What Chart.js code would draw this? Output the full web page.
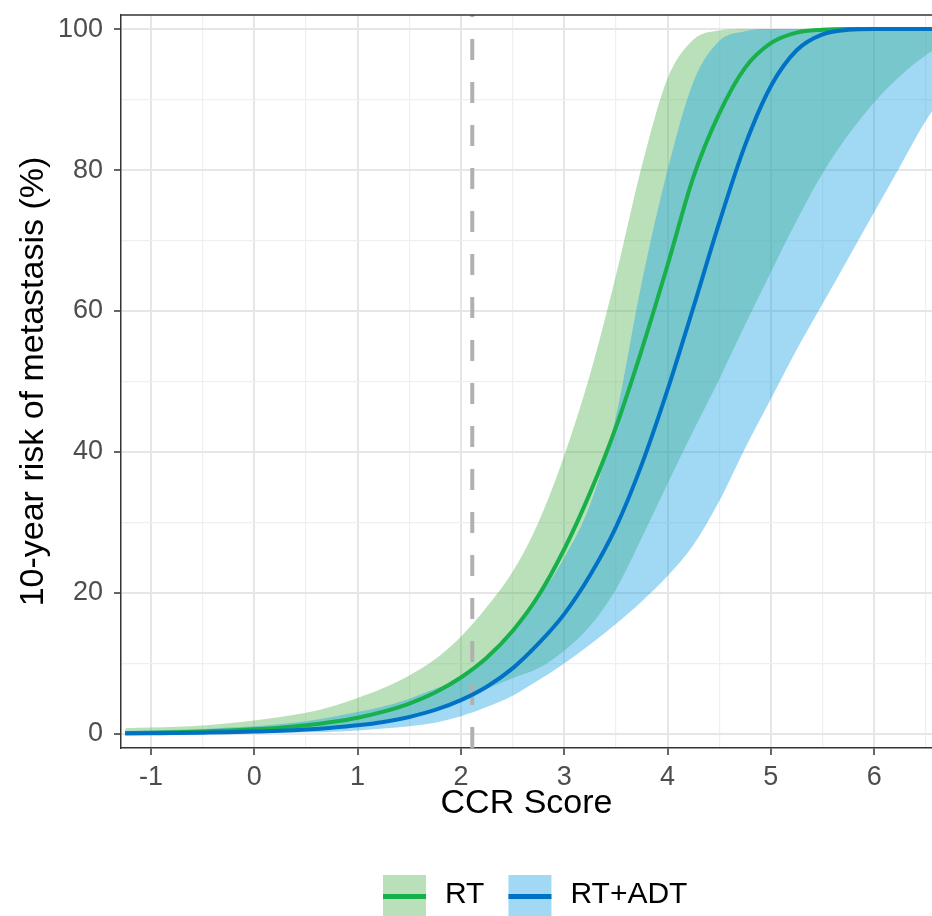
<!DOCTYPE html>
<html>
<head>
<meta charset="utf-8">
<script src="https://cdn.jsdelivr.net/npm/chart.js@4.4.0/dist/chart.umd.min.js"></script>
<style>
html, body { margin: 0; padding: 0; background: #fff; overflow: hidden; }
#wrap { width: 932px; height: 916px; }
</style>
</head>
<body>
<div id="wrap"><canvas id="risk" width="932" height="916"></canvas></div>
<script>
// CCR score grid and 10-year metastasis risk (%)
const ccr = [-1.25, -1, -0.75, -0.5, -0.25, 0, 0.25, 0.5, 0.75, 1, 1.25, 1.5, 1.75, 2, 2.25, 2.5,
             2.75, 3, 3.25, 3.5, 3.75, 4, 4.25, 4.5, 4.75, 5, 5.25, 5.5, 5.75, 6, 6.25, 6.5, 6.75];

const rtRisk = [0.13, 0.18, 0.25, 0.34, 0.47, 0.65, 0.89, 1.22, 1.68, 2.3, 3.16, 4.31, 5.88, 8.0, 10.8, 14.6,
                19.6, 26.2, 34.2, 43.5, 54.5, 66.5, 79, 88, 94.5, 98, 99.5, 99.9, 100, 100, 100, 100, 100];
const rtHigh = [0.8, 0.9, 1.0, 1.2, 1.5, 1.9, 2.4, 3.0, 3.9, 5.1, 6.5, 8.3, 10.6, 13.8, 18, 23,
                30, 39.5, 51, 65, 80.5, 93, 98.5, 99.8, 100, 100, 100, 100, 100, 100, 100, 100, 100];
const rtLow = [0.05, 0.07, 0.1, 0.14, 0.2, 0.3, 0.45, 0.65, 0.95, 1.35, 1.9, 2.7, 3.7, 5.0, 6.4, 7.9,
               9.3, 11.8, 15.3, 20.5, 27.8, 35.5, 43, 50.3, 58, 65.5, 72.8, 79.5, 85, 89.6, 93.3, 96.3, 98.3];

const adtRisk = [0.06, 0.09, 0.12, 0.17, 0.23, 0.33, 0.45, 0.63, 0.88, 1.22, 1.7, 2.4, 3.4, 4.8, 6.7, 9.3,
                 12.8, 17.0, 22.5, 29.3, 38.2, 48.8, 60.5, 72.5, 83.5, 91.9, 97.0, 99.25, 99.9, 100, 100, 100, 100];
const adtHigh = [0.4, 0.5, 0.6, 0.7, 0.9, 1.1, 1.4, 1.8, 2.4, 3.1, 3.9, 5.0, 6.4, 7.8, 10.5, 14.3,
                 19.3, 25, 32.5, 45, 64, 80, 92.5, 98.3, 99.7, 100, 100, 100, 100, 100, 100, 100, 100];
const adtLow = [0.02, 0.03, 0.04, 0.06, 0.08, 0.1, 0.15, 0.22, 0.32, 0.5, 0.75, 1.1, 1.6, 2.5, 3.8, 5.4,
                7.6, 10.0, 12.7, 15.6, 18.8, 22.4, 26.8, 33.0, 40.5, 47.5, 54.5, 61, 67.5, 74, 80.5, 87, 92];

const cutoff = 2.11;
const seriesNames = ['RT', 'RT+ADT'];

const xMajor = [-1, 0, 1, 2, 3, 4, 5, 6];
const xMinor = [-0.5, 0.5, 1.5, 2.5, 3.5, 4.5, 5.5, 6.5];
const yMajor = [0, 20, 40, 60, 80, 100];
const yMinor = [10, 30, 50, 70, 90];
const xRange = [-1.29, 6.56];
const yRange = [-2, 102];

const green = '#17b04a', greenFill = 'rgba(88,180,88,0.42)';
const blue = '#0072c6', blueFill = 'rgba(30,165,230,0.42)';
const font = '"Liberation Sans", Arial, Helvetica, sans-serif';

const pts = arr => ccr.map((x, i) => ({ x: x, y: arr[i] }));

function band(arr, fill) {
    return {
        data: pts(arr),
        borderColor: 'transparent',
        borderWidth: 0,
        backgroundColor: fill || 'transparent',
        fill: fill ? '+1' : false,
        pointRadius: 0,
        cubicInterpolationMode: 'monotone'
    };
}

function curve(arr, color, label) {
    return {
        label: label,
        data: pts(arr),
        borderColor: color,
        borderWidth: 4,
        pointRadius: 0,
        fill: false,
        cubicInterpolationMode: 'monotone'
    };
}

function gridOpts(major) {
    return {
        color: c => major.includes(c.tick.value) ? '#e6e6e6' : '#efefef',
        lineWidth: c => major.includes(c.tick.value) ? 2 : 1.2,
        tickColor: c => major.includes(c.tick.value) ? '#333' : 'rgba(0,0,0,0)',
        tickLength: 7,
        tickWidth: 1.5
    };
}

// no extra room for overhanging tick labels, the layout padding handles it
function noOverhang(s) {
    s.paddingTop = 0;
    s.paddingBottom = 0;
    s.paddingLeft = 0;
    s.paddingRight = 0;
}

const frame = {
    id: 'frame',
    afterDatasetsDraw(chart) {
        const a = chart.chartArea, g = chart.ctx;
        g.save();
        g.strokeStyle = '#333';
        g.lineWidth = 1.5;
        g.beginPath();
        g.moveTo(a.left, a.top);
        g.lineTo(a.right, a.top);
        g.stroke();
        g.restore();
    }
};

const legendKeys = {
    id: 'legendKeys',
    afterDraw(chart) {
        const g = chart.ctx;
        const colors = [[greenFill, green], [blueFill, blue]];
        const key = 43, top = 875;
        let x = 383;
        g.save();
        g.font = '30px ' + font;
        g.textBaseline = 'middle';
        seriesNames.forEach((name, i) => {
            g.fillStyle = colors[i][0];
            g.fillRect(x, top, key, key);
            g.strokeStyle = colors[i][1];
            g.lineWidth = 5;
            g.beginPath();
            g.moveTo(x, top + key / 2);
            g.lineTo(x + key, top + key / 2);
            g.stroke();
            g.fillStyle = '#000';
            g.fillText(name, x + key + 19, top + 20);
            x += key + 19 + g.measureText(name).width + 24;
        });
        g.restore();
    }
};

new Chart(document.getElementById('risk'), {
    type: 'line',
    data: {
        datasets: [
            curve(adtRisk, blue, seriesNames[1]),
            curve(rtRisk, green, seriesNames[0]),
            {
                data: [{ x: cutoff, y: yRange[0] }, { x: cutoff, y: yRange[1] }],
                borderColor: '#b0b0b0',
                borderWidth: 4,
                borderDash: [21, 22],
                pointRadius: 0,
                fill: false
            },
            band(adtHigh, blueFill),
            band(adtLow),
            band(rtHigh, greenFill),
            band(rtLow)
        ]
    },
    options: {
        responsive: false,
        animation: false,
        devicePixelRatio: 1,
        layout: { padding: { top: 15, right: 0, bottom: 92, left: 0 } },
        plugins: {
            legend: { display: false },
            tooltip: { enabled: false }
        },
        scales: {
            x: {
                type: 'linear',
                min: xRange[0],
                max: xRange[1],
                afterBuildTicks: s => { s.ticks = xMajor.concat(xMinor).sort((a, b) => a - b).map(v => ({ value: v })); },
                afterFit: s => { s.height = 76; noOverhang(s); },
                ticks: {
                    autoSkip: false,
                    maxRotation: 0,
                    padding: 6,
                    color: '#4d4d4d',
                    font: { family: font, size: 27 },
                    callback: v => xMajor.includes(v) ? String(v) : ''
                },
                grid: gridOpts(xMajor),
                border: { color: '#333', width: 1.5 },
                title: {
                    display: true,
                    text: 'CCR Score',
                    color: '#000',
                    font: { family: font, size: 34 },
                    padding: { top: 0, bottom: 0 }
                }
            },
            y: {
                min: yRange[0],
                max: yRange[1],
                afterBuildTicks: s => { s.ticks = yMajor.concat(yMinor).sort((a, b) => a - b).map(v => ({ value: v })); },
                afterFit: s => { s.width = 121; noOverhang(s); },
                ticks: {
                    autoSkip: false,
                    padding: 11,
                    color: '#4d4d4d',
                    font: { family: font, size: 27 },
                    callback: v => yMajor.includes(v) ? String(v) : ''
                },
                grid: gridOpts(yMajor),
                border: { color: '#333', width: 1.5 },
                title: {
                    display: true,
                    text: '10-year risk of metastasis (%)',
                    color: '#000',
                    font: { family: font, size: 34 },
                    padding: { top: 13, bottom: 0 }
                }
            }
        }
    },
    plugins: [frame, legendKeys]
});
</script>
</body>
</html>
